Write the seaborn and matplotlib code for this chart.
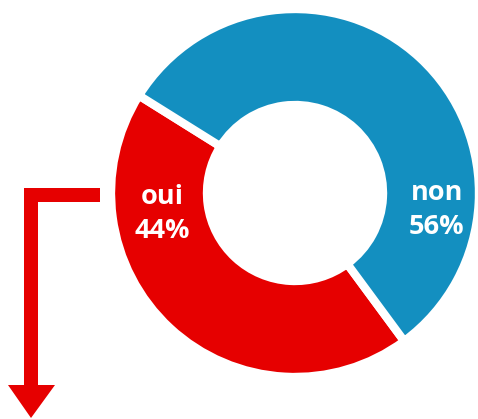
import matplotlib

matplotlib.use("agg")

import matplotlib.pyplot as plt
import seaborn as sns
from matplotlib.patches import Polygon

# Data
labels = ["oui", "non"]
shares = [44, 56]
colors = ["#E60000", "#138FC0"]

W, H = 478, 419

sns.set_theme(style="white")
plt.rcParams["font.family"] = ["Open Sans", "DejaVu Sans"]

fig = plt.figure(figsize=(W / 100, H / 100), dpi=100)
ax = fig.add_axes([0, 0, 1, 1])


def img_y(y):
    # convert image row to data y
    return H - y


# donut
ax.pie(
    shares,
    colors=colors,
    startangle=148,
    counterclock=True,
    center=(295, img_y(193)),
    radius=184,
    frame=True,
    wedgeprops=dict(width=96, edgecolor="white", linewidth=6),
)
ax.set_xlim(0, W)
ax.set_ylim(0, H)
ax.set_aspect("equal")
ax.axis("off")

# labels
label_pos = {"oui": (162, 214), "non": (437, 210)}
for lab, val in zip(labels, shares):
    x, y = label_pos[lab]
    ax.text(
        x, img_y(y), f"{lab}\n{val}%",
        color="white", fontsize=19.5, fontweight="bold",
        ha="center", va="center", linespacing=1.4,
    )

# red elbow arrow pointing down
arrow = Polygon(
    [(100, img_y(188)), (24, img_y(188)), (24, img_y(385)), (8, img_y(385)),
     (31, img_y(418)), (55, img_y(385)), (38, img_y(385)), (38, img_y(202)),
     (100, img_y(202))],
    closed=True, facecolor=colors[0], edgecolor="none",
)
ax.add_patch(arrow)

fig.savefig("out.png", dpi=100, facecolor="white")
